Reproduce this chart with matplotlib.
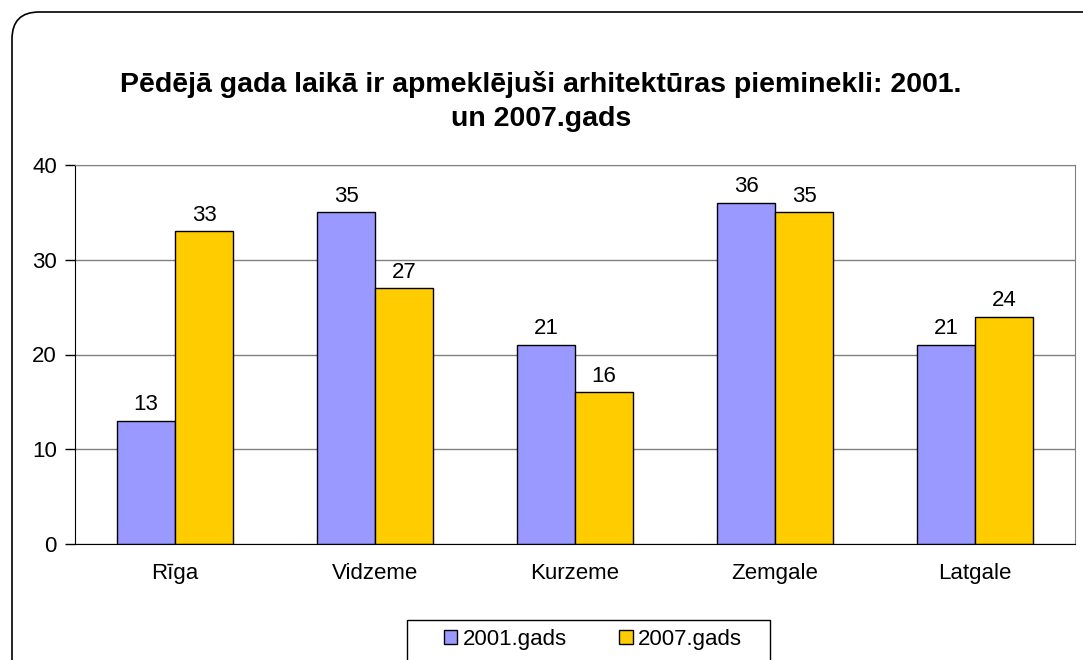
import matplotlib.pyplot as plt
from matplotlib.patches import FancyBboxPatch, Rectangle
import numpy as np

plt.rcParams['font.family'] = ['Liberation Sans', 'DejaVu Sans']

regions = ["Rīga", "Vidzeme", "Kurzeme", "Zemgale", "Latgale"]
vals_2001 = [13, 35, 21, 36, 21]
vals_2007 = [33, 27, 16, 35, 24]
labels = ["2001.gads", "2007.gads"]
colors = ["#9999FF", "#FFCC00"]

W, H = 1083, 660
fig = plt.figure(figsize=(W / 100, H / 100), dpi=100)

# rounded chart frame, running off the right and bottom edges
frame = FancyBboxPatch((12 / W, -0.05), 1.1, (H - 12) / H + 0.05,
                       boxstyle="round,pad=0,rounding_size=0.025",
                       transform=fig.transFigure, fill=False,
                       edgecolor="black", linewidth=1.2, mutation_aspect=W / H)
fig.patches.append(frame)

ax = fig.add_axes([75 / W, 1 - 544 / H, 1000 / W, (544 - 165) / H])
x = np.arange(len(regions))
bw = 0.29
b1 = ax.bar(x - bw / 2, vals_2001, bw, color=colors[0], edgecolor="black", linewidth=1, label=labels[0])
b2 = ax.bar(x + bw / 2, vals_2007, bw, color=colors[1], edgecolor="black", linewidth=1, label=labels[1])
for bars in (b1, b2):
    ax.bar_label(bars, padding=4, fontsize=16)

ax.set_xlim(-0.5, len(regions) - 0.5)
ax.set_ylim(0, 40)
ax.set_yticks([0, 10, 20, 30, 40])
ax.set_xticks(x)
ax.set_xticklabels(regions)
ax.tick_params(axis="both", labelsize=16, direction="out", length=7, width=1)
ax.tick_params(axis="y", pad=6)
ax.tick_params(axis="x", length=0, pad=14)
ax.yaxis.grid(True, color="#808080", linewidth=1)
ax.set_axisbelow(True)
ax.spines["top"].set_color("#808080")
ax.spines["right"].set_color("#808080")

fig.text(541 / W, 1 - 101 / H,
         "Pēdējā gada laikā ir apmeklējuši arhitektūras pieminekli: 2001.\nun 2007.gads",
         ha="center", va="center", fontsize=20.5, fontweight="bold", linespacing=1.4)

# legend box drawn by hand, entries spread inside it
fig.patches.append(Rectangle((407 / W, -0.01), 363 / W, 1 - 620 / H + 0.01,
                             transform=fig.transFigure, fill=False,
                             edgecolor="black", linewidth=1))
leg = fig.legend(handles=[b1, b2], loc="upper left",
                 bbox_to_anchor=(437 / W, 1 - 660 / H, 312 / W, 38 / H), mode="expand",
                 ncol=2, fontsize=16, frameon=False,
                 handlelength=0.6, handleheight=0.6, handletextpad=0.25,
                 borderpad=0.3, borderaxespad=0)

fig.savefig("out.png", dpi=100)
